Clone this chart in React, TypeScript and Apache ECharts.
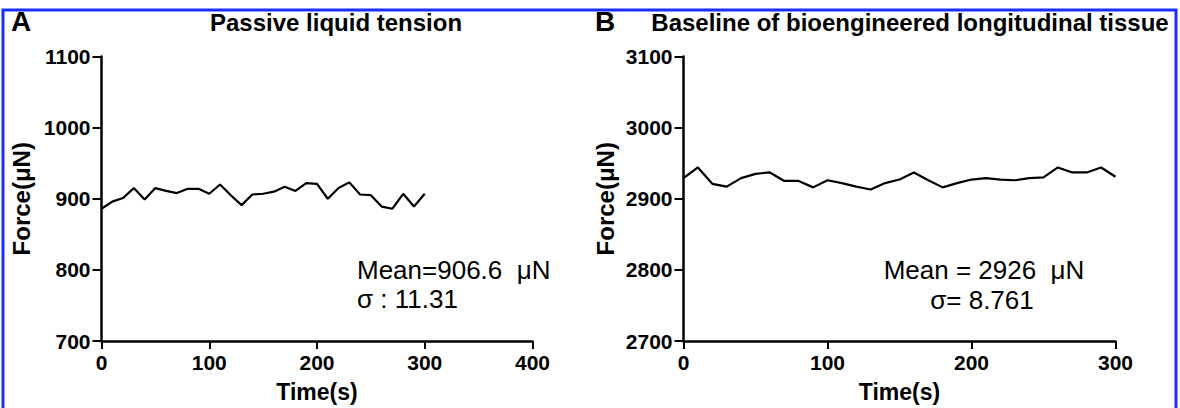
import React, { useEffect, useRef } from "react";
import * as echarts from "echarts";

const timesA = [0, 10, 20, 30, 40, 50, 60, 70, 80, 90, 100, 110, 120, 130, 140, 150, 160, 170, 180, 190, 200, 210, 220, 230, 240, 250, 260, 270, 280, 290, 300];
const forceA = [886, 896, 901, 915, 899, 915, 911, 908, 914, 914, 907, 920, 905, 891, 906, 907, 910, 917, 911, 922, 921, 900, 915, 923, 906, 905, 889, 886, 907, 889, 907];

const timesB = [0, 10, 20, 30, 40, 50, 60, 70, 80, 90, 100, 110, 120, 130, 140, 150, 160, 170, 180, 190, 200, 210, 220, 230, 240, 250, 260, 270, 280, 290, 300];
const forceB = [2929, 2944, 2921, 2917, 2929, 2935, 2937, 2925, 2925, 2916, 2926, 2922, 2917, 2913, 2922, 2927, 2937, 2926, 2916, 2922, 2927, 2929, 2927, 2926, 2929, 2930, 2944, 2937, 2937, 2944, 2931];

const xTicksA = { min: 0, max: 400, interval: 100 };
const yTicksA = { min: 700, max: 1100, interval: 100 };
const xTicksB = { min: 0, max: 300, interval: 100 };
const yTicksB = { min: 2700, max: 3100, interval: 100 };

const titleA = "Passive liquid tension";
const titleB = "Baseline of bioengineered longitudinal tissue";
const noteA = ["Mean=906.6  \u03bcN", "\u03c3 : 11.31"];
const noteB = ["Mean = 2926  \u03bcN", "\u03c3= 8.761"];

const FONT = "'Liberation Sans', Arial, Helvetica, sans-serif";

function xAxis(gridIndex: number, t: { min: number; max: number; interval: number }) {
  return {
    type: "value",
    gridIndex,
    min: t.min,
    max: t.max,
    interval: t.interval,
    name: "Time(s)",
    nameLocation: "middle",
    nameGap: 39,
    nameTextStyle: { color: "#000", fontFamily: FONT, fontWeight: "bold", fontSize: 23 },
    splitLine: { show: false },
    axisLine: { show: true, onZero: false, lineStyle: { color: "#000", width: 2.5 } },
    axisTick: { show: true, length: 8, lineStyle: { color: "#000", width: 2 } },
    axisLabel: { color: "#000", fontFamily: FONT, fontWeight: "bold", fontSize: 21, margin: 11, formatter: (v: number) => String(v) },
  };
}

function yAxis(gridIndex: number, t: { min: number; max: number; interval: number }, gap: number) {
  return {
    type: "value",
    gridIndex,
    min: t.min,
    max: t.max,
    interval: t.interval,
    name: "Force(\u03bcN)",
    nameLocation: "middle",
    nameRotate: 90,
    nameGap: gap,
    nameTextStyle: { color: "#000", fontFamily: FONT, fontWeight: "bold", fontSize: 24 },
    splitLine: { show: false },
    axisLine: { show: true, onZero: false, lineStyle: { color: "#000", width: 2.5 } },
    axisTick: { show: true, length: 9, lineStyle: { color: "#000", width: 2 } },
    axisLabel: { color: "#000", fontFamily: FONT, fontWeight: "bold", fontSize: 21, margin: 11, formatter: (v: number) => String(v) },
  };
}

function txt(x: number, y: number, text: string, size: number, bold: boolean, align = "left") {
  return {
    type: "text",
    x,
    y,
    style: {
      text,
      fill: "#000",
      fontFamily: FONT,
      fontSize: size,
      fontWeight: bold ? "bold" : "normal",
      textAlign: align,
      textVerticalAlign: "middle",
    },
  };
}

export default function App() {
  const ref = useRef<HTMLDivElement>(null);
  useEffect(() => {
    document.body.style.margin = "0";
    const chart = echarts.init(ref.current!, null, { renderer: "svg" });
    chart.setOption({
      animation: false,
      backgroundColor: "#fff",
      grid: [
        { left: 101.5, right: 647.5, top: 56.5, bottom: 64.5 },
        { left: 683.5, right: 64.5, top: 56.5, bottom: 64.5 },
      ],
      xAxis: [xAxis(0, xTicksA), xAxis(1, xTicksB)],
      yAxis: [yAxis(0, yTicksA, 68), yAxis(1, yTicksB, 66)],
      series: [
        {
          type: "line",
          xAxisIndex: 0,
          yAxisIndex: 0,
          data: timesA.map((t, i) => [t, forceA[i]]),
          showSymbol: false,
          lineStyle: { color: "#000", width: 2.2 },
        },
        {
          type: "line",
          xAxisIndex: 1,
          yAxisIndex: 1,
          data: timesB.map((t, i) => [t, forceB[i]]),
          showSymbol: false,
          lineStyle: { color: "#000", width: 2.2 },
        },
      ],
      graphic: [
        {
          type: "rect",
          shape: { x: 3, y: 10, width: 1173, height: 410 },
          style: { fill: "none", stroke: "#1a2eff", lineWidth: 3 },
          silent: true,
        },
        txt(11, 21, "A", 28, true),
        txt(595, 21, "B", 28, true),
        txt(336, 22, titleA, 24, true, "center"),
        txt(910, 22, titleB, 24, true, "center"),
        txt(357, 270, noteA[0], 26, false),
        txt(357, 299, noteA[1], 26, false),
        txt(984, 270, noteB[0], 26, false, "center"),
        txt(982, 300, noteB[1], 26, false, "center"),
      ],
    });
    return () => chart.dispose();
  }, []);
  return <div ref={ref} style={{ width: 1180, height: 408 }} />;
}
